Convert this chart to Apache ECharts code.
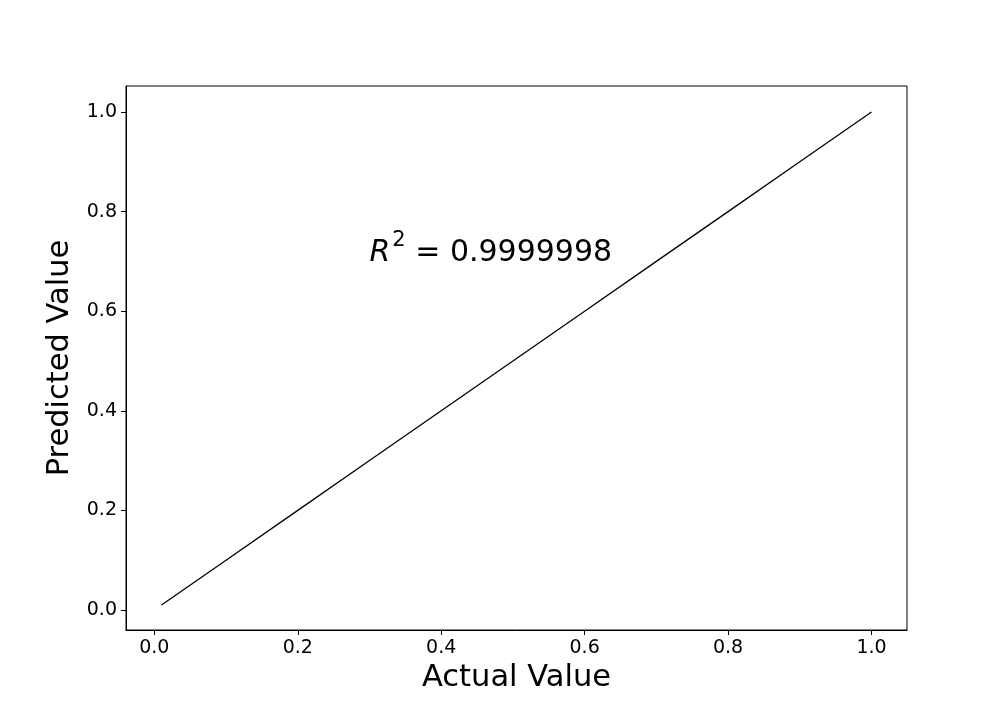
<!DOCTYPE html>
<html>
<head>
<meta charset="utf-8">
<script src="https://cdn.jsdelivr.net/npm/echarts@6/dist/echarts.min.js"></script>
<style>html,body{margin:0;padding:0;background:#fff}#c{width:1008px;height:720px}</style>
</head>
<body>
<div id="c"></div>
<script>
const actual = [0.01, 0.1, 0.2, 0.3, 0.4, 0.5, 0.6, 0.7, 0.8, 0.9, 1.0];
const predicted = [0.0101, 0.1, 0.2, 0.3, 0.4, 0.5, 0.6, 0.7, 0.8, 0.9, 1.0];
const xTicks = [0.0, 0.2, 0.4, 0.6, 0.8, 1.0];
const yTicks = [0.0, 0.2, 0.4, 0.6, 0.8, 1.0];
const annotation = { x: 0.3, y: 0.7, r2: '0.9999998' };
const xName = 'Actual Value';
const yName = 'Predicted Value';

const FONT = 'DejaVu Sans';
const chart = echarts.init(document.getElementById('c'), null, { renderer: 'canvas' });
const axisCommon = {
  type: 'value',
  nameLocation: 'middle',
  nameTextStyle: { fontFamily: FONT, fontSize: 30.5, color: '#000' },
  axisLine: { show: true, onZero: false, lineStyle: { color: '#000', width: 1 } },
  axisTick: { show: true, inside: false, length: 5, lineStyle: { color: '#000', width: 1 } },
  axisLabel: { fontFamily: FONT, fontSize: 19, color: '#000', margin: 9, formatter: v => v.toFixed(1) },
  splitLine: { show: false }
};
chart.setOption({
  animation: false,
  backgroundColor: '#fff',
  grid: { left: 126, right: 101, top: 86, bottom: 90, show: true, borderColor: '#000', borderWidth: 1, backgroundColor: 'transparent' },
  xAxis: Object.assign({}, axisCommon, {
    min: -0.0395, max: 1.0495,
    name: xName, nameGap: 29,
    axisTick: Object.assign({}, axisCommon.axisTick, { customValues: xTicks }),
    axisLabel: Object.assign({}, axisCommon.axisLabel, { customValues: xTicks })
  }),
  yAxis: Object.assign({}, axisCommon, {
    min: -0.0402, max: 1.0522,
    name: yName, nameGap: 43,
    axisTick: Object.assign({}, axisCommon.axisTick, { customValues: yTicks }),
    axisLabel: Object.assign({}, axisCommon.axisLabel, { customValues: yTicks })
  }),
  series: [
    {
      type: 'line',
      data: actual.map((a, i) => [a, predicted[i]]),
      showSymbol: false,
      symbol: 'none',
      lineStyle: { color: '#000', width: 1.3 },
      z: 2
    },
    {
      type: 'scatter',
      data: [[annotation.x, annotation.y]],
      symbolSize: 0,
      silent: true,
      itemStyle: { opacity: 1, color: '#000' },
      label: {
        show: true,
        color: '#000',
        opacity: 1,
        position: [0, 0],
        align: 'left',
        verticalAlign: 'bottom',
        offset: [0, 7],
        formatter: '{i|R}{sup|2}{n| = ' + annotation.r2 + '}',
        rich: {
          i: { fontFamily: FONT, fontStyle: 'italic', fontSize: 30, color: '#000', verticalAlign: 'bottom' },
          sup: { fontFamily: FONT, fontSize: 21, color: '#000', verticalAlign: 'bottom', padding: [0, 0, 17, 2] },
          n: { fontFamily: FONT, fontSize: 30, color: '#000', verticalAlign: 'bottom' }
        }
      }
    }
  ]
});
</script>
</body>
</html>
